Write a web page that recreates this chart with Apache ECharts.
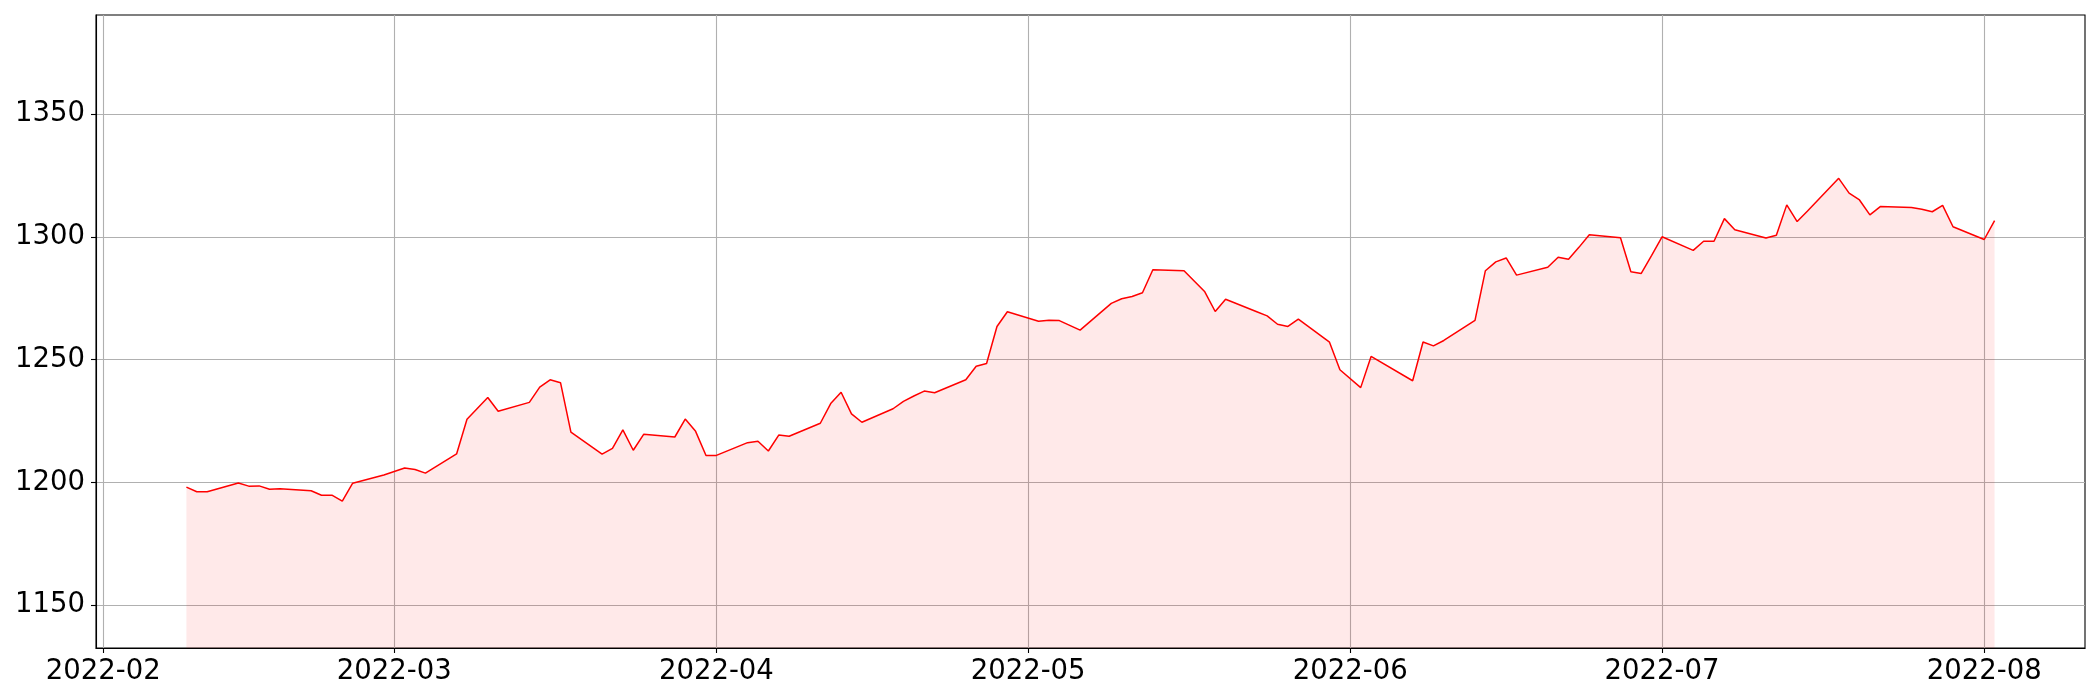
<!DOCTYPE html>
<html>
<head>
<meta charset="utf-8">
<script src="https://cdn.jsdelivr.net/npm/echarts@6/dist/echarts.min.js"></script>
<style>
html,body{margin:0;padding:0;background:#fff;}
#chart{width:2100px;height:700px;}
</style>
</head>
<body>
<div id="chart"></div>
<script>
const dates = [
'2022-02-09','2022-02-10','2022-02-11','2022-02-14','2022-02-15','2022-02-16','2022-02-17','2022-02-18',
'2022-02-21','2022-02-22','2022-02-23','2022-02-24','2022-02-25','2022-02-28',
'2022-03-02','2022-03-03','2022-03-04','2022-03-07','2022-03-08','2022-03-10','2022-03-11',
'2022-03-14','2022-03-15','2022-03-16','2022-03-17','2022-03-18',
'2022-03-21','2022-03-22','2022-03-23','2022-03-24','2022-03-25',
'2022-03-28','2022-03-29','2022-03-30','2022-03-31','2022-04-01',
'2022-04-04','2022-04-05','2022-04-06','2022-04-07','2022-04-08',
'2022-04-11','2022-04-12','2022-04-13','2022-04-14','2022-04-15',
'2022-04-18','2022-04-19','2022-04-20','2022-04-21','2022-04-22',
'2022-04-25','2022-04-26','2022-04-27','2022-04-28','2022-04-29',
'2022-05-02','2022-05-03','2022-05-04','2022-05-06',
'2022-05-09','2022-05-10','2022-05-11','2022-05-12','2022-05-13',
'2022-05-16','2022-05-17','2022-05-18','2022-05-19','2022-05-20',
'2022-05-23','2022-05-24','2022-05-25','2022-05-26','2022-05-27',
'2022-05-30','2022-05-31','2022-06-02','2022-06-03',
'2022-06-07','2022-06-08','2022-06-09','2022-06-10',
'2022-06-13','2022-06-14','2022-06-15','2022-06-16','2022-06-17',
'2022-06-20','2022-06-21','2022-06-22','2022-06-23','2022-06-24',
'2022-06-27','2022-06-28','2022-06-29','2022-06-30','2022-07-01',
'2022-07-04','2022-07-05','2022-07-06','2022-07-07','2022-07-08',
'2022-07-11','2022-07-12','2022-07-13','2022-07-14','2022-07-15',
'2022-07-18','2022-07-19','2022-07-20','2022-07-21','2022-07-22',
'2022-07-25','2022-07-26','2022-07-27','2022-07-28','2022-07-29',
'2022-08-01','2022-08-02'
];
const values = [
1198.1,1196.2,1196.2,1199.8,1198.5,1198.6,1197.2,1197.4,
1196.6,1194.8,1194.8,1192.4,1199.7,1203.0,
1205.9,1205.3,1203.8,1211.6,1225.7,1234.6,1229.0,
1232.6,1238.8,1241.8,1240.6,1220.5,
1211.5,1213.9,1221.4,1213.1,1219.6,
1218.5,1225.8,1220.8,1211.0,1211.0,
1216.2,1216.8,1212.8,1219.3,1218.8,
1224.1,1232.1,1236.7,1227.9,1224.5,
1230.0,1233.0,1235.2,1237.2,1236.5,
1241.8,1247.3,1248.4,1263.5,1269.5,
1265.6,1266.0,1265.9,1262.0,
1272.9,1274.8,1275.7,1277.2,1286.6,
1286.2,1281.9,1277.6,1269.6,1274.6,
1269.5,1267.8,1264.4,1263.5,1266.5,
1257.1,1245.9,1238.6,1251.3,
1241.4,1257.2,1255.6,1257.8,
1266.0,1286.2,1289.8,1291.4,1284.4,
1287.6,1291.7,1290.9,1295.7,1300.8,
1299.6,1285.8,1285.1,1292.4,1300.0,
1294.5,1298.2,1298.2,1307.4,1302.9,
1299.5,1300.6,1313.0,1306.2,1310.5,
1323.8,1317.8,1315.0,1308.9,1312.3,
1311.9,1311.2,1310.2,1312.8,1304.1,
1298.9,1306.6
];
const xTicks = ['2022-02-01','2022-03-01','2022-04-01','2022-05-01','2022-06-01','2022-07-01','2022-08-01'];
const yTicks = [1150,1200,1250,1300,1350];

const xMin = new Date(2022,0,31,7,12).getTime();
const xMax = new Date(2022,7,10,16,48).getTime();
const yMin = 1132.6, yMax = 1390.3;

function toTs(s){const p=s.split('-');return new Date(+p[0],+p[1]-1,+p[2]).getTime();}
const seriesData = dates.map((d,i)=>[toTs(d), values[i]]);
const xTickTs = xTicks.map(toTs);

const font = 'DejaVu Sans';
const chart = echarts.init(document.getElementById('chart'), null, {renderer:'canvas'});
chart.setOption({
  animation:false,
  backgroundColor:'#fff',
  grid:{left:96,right:15,top:15,bottom:52,show:true,borderColor:'#000',borderWidth:1.1,backgroundColor:'transparent'},
  xAxis:{
    type:'value', min:xMin, max:xMax, scale:true,
    axisLine:{show:true,onZero:false,lineStyle:{color:'#000',width:1.1}},
    axisTick:{show:true,length:5,lineStyle:{color:'#000',width:1.1},customValues:xTickTs},
    axisLabel:{color:'#000',fontFamily:font,fontSize:27.5,margin:10,customValues:xTickTs,
      formatter:function(v){const d=new Date(v);return d.getFullYear()+'-'+String(d.getMonth()+1).padStart(2,'0');}},
    splitLine:{show:true,lineStyle:{color:'#b0b0b0',width:1.1}}
  },
  yAxis:{
    type:'value', min:yMin, max:yMax, scale:true,
    axisLine:{show:true,onZero:false,lineStyle:{color:'#000',width:1.1}},
    axisTick:{show:true,length:5,lineStyle:{color:'#000',width:1.1},customValues:yTicks},
    axisLabel:{color:'#000',fontFamily:font,fontSize:27.5,margin:11,customValues:yTicks,
      formatter:function(v){return String(Math.round(v));}},
    splitLine:{show:true,lineStyle:{color:'#b0b0b0',width:1.1}}
  },
  series:[{
    type:'line', data:seriesData, showSymbol:false, symbol:'none',
    lineStyle:{color:'#ff0000',width:1.5},
    areaStyle:{color:'rgba(255,0,0,0.12)',origin:'start'},
    z:3
  }]
});
</script>
</body>
</html>
